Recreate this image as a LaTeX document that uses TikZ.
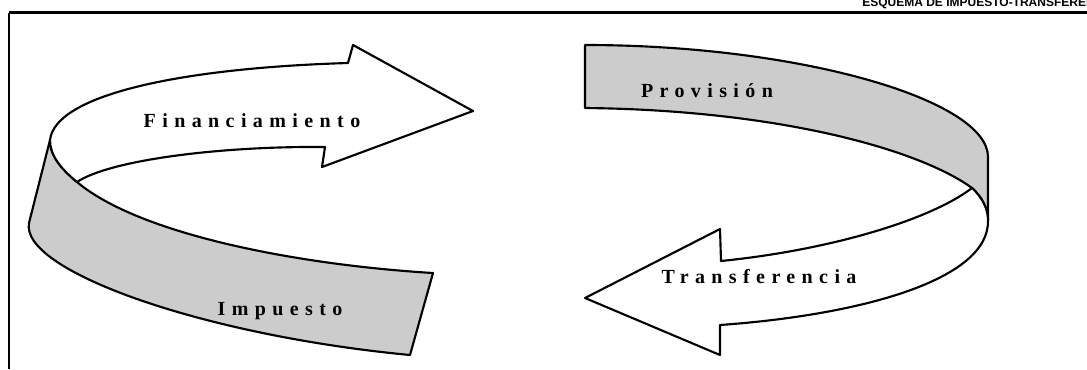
\documentclass[tikz,border=0pt]{standalone}
\usepackage{fontspec}
\setmainfont{Liberation Serif}
\newfontfamily\lblfont{Liberation Serif}[LetterSpace=32]
\newfontfamily\ttlfont{Liberation Sans}
\definecolor{ribbon}{RGB}{204,204,204}
\begin{document}
\begin{tikzpicture}[x=0.75pt,y=-0.75pt, line join=round,
  outl/.style={draw=black, line width=1.6pt},
  band/.style={outl, fill=ribbon},
  arr/.style={outl, fill=white},
  lbl/.style={anchor=base, inner sep=0pt, font=\lblfont\bfseries\fontsize{15pt}{18pt}\selectfont},
  ttl/.style={anchor=base west, inner sep=0pt, font=\ttlfont\bfseries\fontsize{9pt}{11pt}\selectfont}]
\useasboundingbox (0,0) rectangle (1087,369);
% frame
\draw[line width=1.1pt] (9,369) -- (9,12.5);
\draw[line width=1.6pt] (8.6,12.5) -- (1087,12.5);
\node[ttl] (title) at (862,6) {ESQUEMA DE IMPUESTO-TRANSFERENCIA};
% left ribbon (grey band)
\draw[band] (50,140) -- (29,223) .. controls (20,270) and (200,335) .. (410,355)
  -- (433,273) .. controls (300,265) and (140,235) .. (77,182)
  .. controls (60,168) and (50,155) .. (50,140) -- cycle;
% left arrow (white)
\draw[arr] (50,140) .. controls (55,95) and (180,68) .. (348,63)
  -- (353,45) -- (473,111) -- (322,167) -- (325,147)
  .. controls (220,146) and (110,160) .. (77,182)
  .. controls (60,168) and (50,155) .. (50,140) -- cycle;
% right ribbon (grey band)
\draw[band] (585,45) .. controls (800,45) and (988,100) .. (988,157)
  -- (988,220) .. controls (988,210) and (983,198) .. (972,188)
  .. controls (920,150) and (780,110) .. (585,108) -- cycle;
% right arrow (white)
\draw[arr] (988,220) .. controls (990,280) and (860,315) .. (720,325)
  -- (720,355) -- (585,298) -- (720,229) -- (721,261)
  .. controls (830,250) and (930,220) .. (972,188)
  .. controls (983,198) and (988,210) .. (988,220) -- cycle;
% labels
\node[lbl] (fin) at (252,127) {Financiamiento};
\node[lbl] (imp) at (280,315) {Impuesto};
\node[lbl] (pro) at (707,97) {Provisión};
\node[lbl] (tra) at (759,283) {Transferencia};
\end{tikzpicture}
\end{document}
